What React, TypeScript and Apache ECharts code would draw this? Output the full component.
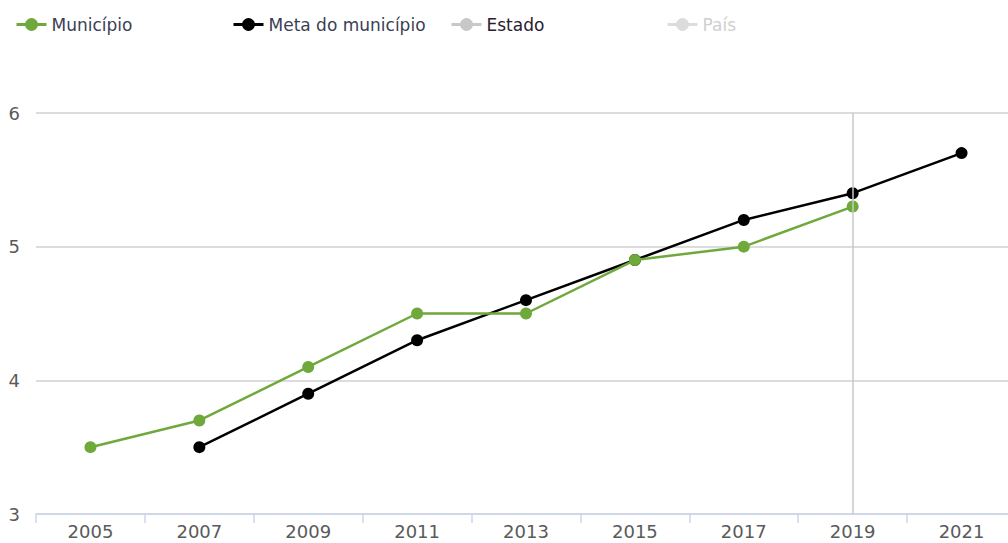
import React, { useEffect, useRef } from "react";
import * as echarts from "echarts";

const years = ["2005", "2007", "2009", "2011", "2013", "2015", "2017", "2019", "2021"];
const municipio = [3.5, 3.7, 4.1, 4.5, 4.5, 4.9, 5.0, 5.3, null];
const metaMunicipio = [null, 3.5, 3.9, 4.3, 4.6, 4.9, 5.2, 5.4, 5.7];
const estado: (number | null)[] = [];
const pais: (number | null)[] = [];
const yTicks = [3, 4, 5, 6];

const GREEN = "#6fa83b";
const FONT = "'DejaVu Sans', sans-serif";

export default function App() {
  const ref = useRef<HTMLDivElement>(null);
  useEffect(() => {
    if (!ref.current) return;
    const chart = echarts.init(ref.current, null, { renderer: "svg" });
    const legendText = { fontFamily: FONT, fontSize: 17, color: "#3a3f55" };
    const lg = {
      top: 11,
      itemWidth: 30,
      itemHeight: 16,
      itemGap: 0,
      selectedMode: false,
      lineStyle: { width: 3 },
    };
    chart.setOption({
      animation: false,
      legend: [
        { ...lg, data: ["Município"], left: 10, textStyle: legendText },
        { ...lg, data: ["Meta do município"], left: 227, textStyle: legendText },
        { ...lg, data: ["Estado"], left: 445, textStyle: { ...legendText, color: "#2a2030" } },
        { ...lg, data: ["País"], left: 661, textStyle: { ...legendText, color: "#cfcfcf" } },
      ],
      grid: { left: 36, right: 0, top: 113, bottom: 29 },
      xAxis: {
        type: "category",
        data: years,
        boundaryGap: true,
        axisLine: { lineStyle: { color: "#ccd6eb", width: 1.5 } },
        axisTick: { show: true, length: 9, lineStyle: { color: "#ccd6eb", width: 1.5 } },
        axisLabel: { fontFamily: FONT, fontSize: 18, color: "#5a5a5a", margin: 8 },
      },
      yAxis: {
        type: "value",
        min: yTicks[0],
        max: yTicks[yTicks.length - 1],
        interval: 1,
        axisLine: { show: false },
        axisTick: { show: false },
        axisLabel: { fontFamily: FONT, fontSize: 18, color: "#5a5a5a", margin: 16 },
        splitLine: { lineStyle: { color: "#d0d0d0", width: 1.5 } },
      },
      series: [
        {
          name: "Município",
          type: "line",
          data: municipio,
          color: GREEN,
          symbol: "circle",
          symbolSize: 12,
          lineStyle: { width: 2.5, color: GREEN },
          itemStyle: { color: GREEN },
          markLine: {
            silent: true,
            symbol: "none",
            label: { show: false },
            lineStyle: { color: "#c8c8c8", width: 1.5, type: "solid" },
            data: [{ xAxis: "2019" }],
          },
          z: 3,
        },
        {
          name: "Meta do município",
          type: "line",
          data: metaMunicipio,
          color: "#000",
          symbol: "circle",
          symbolSize: 12,
          lineStyle: { width: 2.5, color: "#000" },
          itemStyle: { color: "#000" },
          z: 2,
        },
        {
          name: "Estado",
          type: "line",
          data: estado,
          color: "#c8c8c8",
          symbol: "circle",
          symbolSize: 12,
          lineStyle: { width: 2.5, color: "#c8c8c8" },
          itemStyle: { color: "#c8c8c8" },
        },
        {
          name: "País",
          type: "line",
          data: pais,
          color: "#dcdcdc",
          symbol: "circle",
          symbolSize: 12,
          lineStyle: { width: 2.5, color: "#dcdcdc" },
          itemStyle: { color: "#dcdcdc" },
        },
      ],
    });
    return () => chart.dispose();
  }, []);
  return (
    <div
      ref={ref}
      style={{ position: "fixed", left: 0, top: 0, width: 1016, height: 543, background: "#fff" }}
    />
  );
}
